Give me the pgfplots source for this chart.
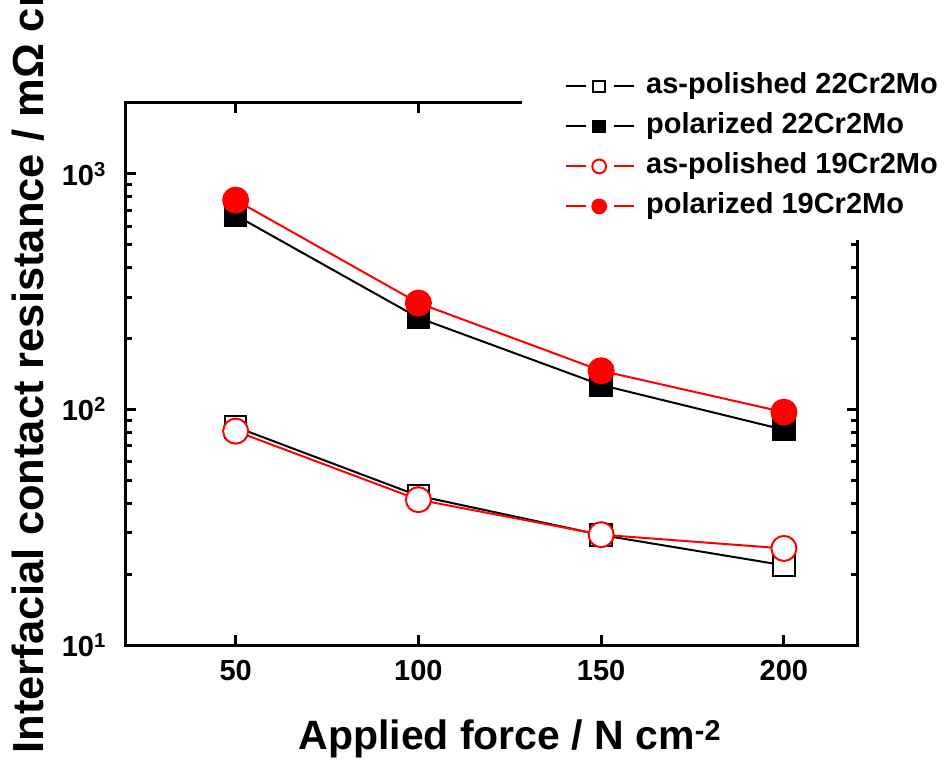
\documentclass[border=0pt]{standalone}
\usepackage{pgfplots}
\pgfplotsset{compat=1.18}
\usepackage{fontspec}
\setmainfont{Liberation Sans}
\begin{document}
\begin{tikzpicture}
\begin{axis}[
  at={(0pt,0pt)}, anchor=south west,
  scale only axis, width=731pt, height=542pt,
  xmin=20, xmax=220, ymode=log, ymin=10, ymax=2000,
  xtick={50,100,150,200}, xticklabels={50,100,150,200},
  ytick={10,100,1000},
  yticklabels={10\textsuperscript{1},10\textsuperscript{2},10\textsuperscript{3}},
  ticklabel style={font=\bfseries\fontsize{29}{33}\selectfont, inner sep=0pt},
  xticklabel style={anchor=north, yshift=-15pt},
  yticklabel style={anchor=east, xshift=-20pt},
  minor x tick num=0,
  tick align=inside,
  major tick length=10pt, minor tick length=6pt,
  axis line style={line width=3pt},
  every tick/.style={black, line width=3pt},
  xlabel={Applied force / N cm\textsuperscript{-2}},
  xlabel style={font=\bfseries\fontsize{41}{48}\selectfont, at={(axis description cs:0.2312,-0.1937)}, anchor=base west},
  ylabel={Interfacial contact resistance / mΩ cm\textsuperscript{2}},
  ylabel style={font=\bfseries\fontsize{43.5}{50}\selectfont, at={(axis description cs:-0.1135,-0.2066)}, anchor=base west, rotate=0},
  legend image code/.code={
    \draw[#1] (0pt,0pt) -- (20pt,0pt);
    \draw[#1] (48pt,0pt) -- (68pt,0pt);
    \draw[#1, /tikz/every mark/.append style={scale=0.55}] plot coordinates {(33pt,0pt)};
  },
  legend cell align=left,
  legend style={at={(axis description cs:0.5417,0.747)}, anchor=south west,
    draw=none, fill=white, inner xsep=43pt, inner ysep=20pt,
    font=\bfseries\fontsize{29}{34}\selectfont,
    nodes={inner sep=0pt, text height=21pt, text depth=6pt},
    row sep=13pt, column sep=11pt},
]
\addplot[black, line width=2pt, mark=square*, mark size=10.7pt, mark options={solid, fill=white}]
  coordinates {(50,84.3) (100,43) (150,29.3) (200,21.8)};
\addlegendentry{as-polished 22Cr2Mo}
\addplot[black, line width=2pt, mark=square*, mark size=10.7pt, mark options={solid, fill=black}]
  coordinates {(50,667) (100,245) (150,127) (200,82)};
\addlegendentry{polarized 22Cr2Mo}
\addplot[red, line width=2pt, mark=*, mark size=12.5pt, mark options={solid, fill=white}]
  coordinates {(50,80.9) (100,41.4) (150,29.4) (200,25.7)};
\addlegendentry{as-polished 19Cr2Mo}
\addplot[red, line width=2pt, mark=*, mark size=12.5pt, mark options={solid, fill=red}]
  coordinates {(50,774) (100,283) (150,146) (200,97.4)};
\addlegendentry{polarized 19Cr2Mo}
\end{axis}
\pgfresetboundingbox
\path[use as bounding box] (-126pt,-124pt) rectangle (826pt,645pt);
\end{tikzpicture}
\end{document}
